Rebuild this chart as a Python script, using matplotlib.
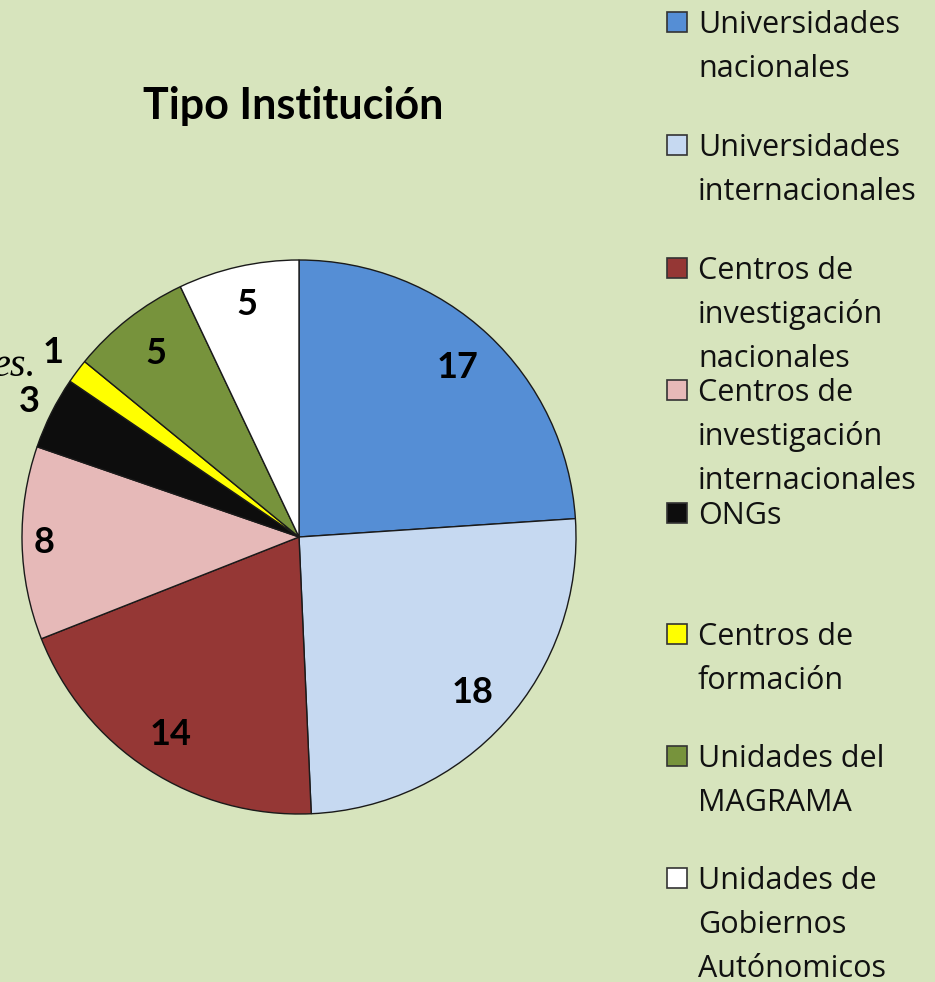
import matplotlib.pyplot as plt
from matplotlib.patches import Rectangle
import numpy as np

# Data
categories = [
    "Universidades\nnacionales",
    "Universidades\ninternacionales",
    "Centros de\ninvestigación\nnacionales",
    "Centros de\ninvestigación\ninternacionales",
    "ONGs",
    "Centros de\nformación",
    "Unidades del\nMAGRAMA",
    "Unidades de\nGobiernos\nAutónomicos",
]
values = [17, 18, 14, 8, 3, 1, 5, 5]
colors = ["#558ed5", "#c6d9f1", "#953735", "#e6b9b8",
          "#0d0d0d", "#ffff00", "#77933c", "#ffffff"]
# radial position of each value label (fraction of radius)
label_dist = [0.84, 0.84, 0.85, 0.92, 1.09, 1.11, 0.84, 0.86]

bg = "#d7e4bd"
W, H = 935, 982
fig = plt.figure(figsize=(W / 100, H / 100), dpi=100, facecolor=bg)

# pie axes: centre (299, 537) px, radius 277 px
cx, cy, r = 299, 537, 277
ax = fig.add_axes([(cx - r) / W, (H - cy - r) / H, 2 * r / W, 2 * r / H])
ax.set_facecolor(bg)

wedges, _ = ax.pie(values, colors=colors, startangle=90, counterclock=False,
                   radius=1, wedgeprops=dict(edgecolor="#1a1a1a", linewidth=1.0))
ax.set_xlim(-1, 1)
ax.set_ylim(-1, 1)
ax.set_aspect("equal")
ax.axis("off")

for w, v, d in zip(wedges, values, label_dist):
    ang = np.deg2rad((w.theta1 + w.theta2) / 2)
    ax.text(d * np.cos(ang), d * np.sin(ang), str(v), ha="center", va="center",
            fontsize=26, fontweight="bold", family="Lato", color="black")

# Title
fig.text(293 / W, 1 - 106 / H, "Tipo Institución", ha="center", va="center",
         fontsize=31, fontweight="bold", family="Lato")

# stray fragment at the left edge
fig.text(36 / W, 1 - 366 / H, "es.", ha="right", va="center", fontsize=29,
         style="italic", family="Liberation Serif")

# Legend (manual, fixed slots, 44 px line pitch)
slot_y = [22, 145, 268, 390, 513, 634, 756, 878]
for lab, col, y in zip(categories, colors, slot_y):
    fig.patches.append(Rectangle((667 / W, 1 - (y + 10) / H), 20 / W, 20 / H,
                                 transform=fig.transFigure, facecolor=col,
                                 edgecolor="#333333", linewidth=1.2))
    for i, line in enumerate(lab.split("\n")):
        fig.text(698 / W, 1 - (y + 11 + i * 44) / H, line, ha="left",
                 va="baseline", fontsize=22, family="Open Sans",
                 color="#111111")

fig.savefig("out.png", dpi=100, facecolor=bg)
